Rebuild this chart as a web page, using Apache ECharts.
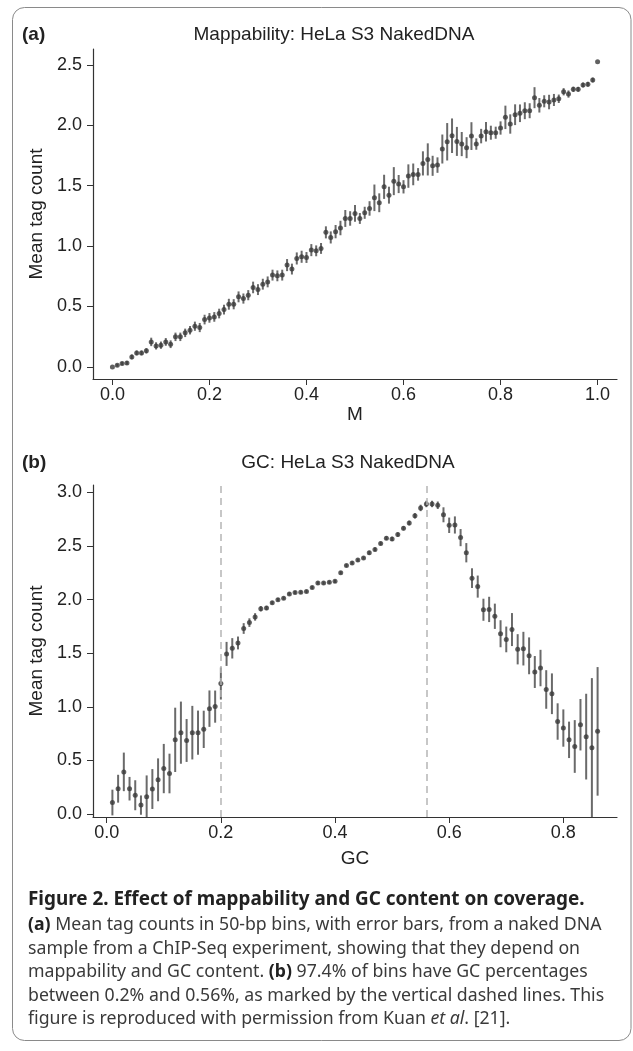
<!DOCTYPE html>
<html><head><meta charset="utf-8">
<script src="https://cdn.jsdelivr.net/npm/echarts@6/dist/echarts.min.js"></script>
<style>html,body{margin:0;padding:0;background:#fff}#c{width:633px;height:1051px}</style>
</head><body><div id="c"></div>
<script>
// Panel (a): mappability bins
const mapM = [0.00,0.01,0.02,0.03,0.04,0.05,0.06,0.07,0.08,0.09,0.10,0.11,0.12,0.13,0.14,0.15,0.16,0.17,0.18,0.19,0.20,0.21,0.22,0.23,0.24,0.25,0.26,0.27,0.28,0.29,0.30,0.31,0.32,0.33,0.34,0.35,0.36,0.37,0.38,0.39,0.40,0.41,0.42,0.43,0.44,0.45,0.46,0.47,0.48,0.49,0.50,0.51,0.52,0.53,0.54,0.55,0.56,0.57,0.58,0.59,0.60,0.61,0.62,0.63,0.64,0.65,0.66,0.67,0.68,0.69,0.70,0.71,0.72,0.73,0.74,0.75,0.76,0.77,0.78,0.79,0.80,0.81,0.82,0.83,0.84,0.85,0.86,0.87,0.88,0.89,0.90,0.91,0.92,0.93,0.94,0.95,0.96,0.97,0.98,0.99,1.00];
const mapMean = [0.00,0.014,0.028,0.033,0.083,0.116,0.116,0.133,0.207,0.174,0.18,0.207,0.188,0.249,0.249,0.282,0.304,0.337,0.326,0.392,0.406,0.414,0.442,0.475,0.519,0.519,0.58,0.566,0.594,0.658,0.64,0.685,0.704,0.76,0.754,0.76,0.843,0.81,0.898,0.912,0.906,0.967,0.961,0.981,1.114,1.072,1.12,1.15,1.229,1.229,1.271,1.229,1.276,1.312,1.40,1.359,1.491,1.422,1.538,1.514,1.491,1.58,1.594,1.594,1.685,1.718,1.665,1.671,1.804,1.864,1.914,1.867,1.845,1.815,1.911,1.845,1.911,1.947,1.939,1.939,1.978,2.066,2.011,2.088,2.10,2.121,2.121,2.229,2.166,2.199,2.193,2.21,2.22,2.278,2.259,2.298,2.298,2.334,2.34,2.375,2.527];
const mapErr = [0,0.012,0.014,0.015,0.02,0.02,0.02,0.022,0.035,0.03,0.03,0.032,0.032,0.035,0.035,0.035,0.035,0.038,0.038,0.04,0.04,0.04,0.04,0.04,0.045,0.042,0.045,0.042,0.042,0.048,0.045,0.045,0.045,0.045,0.045,0.045,0.05,0.045,0.05,0.05,0.045,0.05,0.045,0.045,0.05,0.05,0.055,0.06,0.07,0.06,0.07,0.045,0.05,0.06,0.11,0.078,0.10,0.07,0.116,0.075,0.055,0.097,0.09,0.052,0.10,0.133,0.083,0.064,0.12,0.155,0.143,0.12,0.10,0.087,0.115,0.047,0.06,0.08,0.058,0.05,0.055,0.097,0.08,0.086,0.073,0.07,0.062,0.087,0.06,0.05,0.06,0.05,0.035,0.03,0.03,0.022,0.02,0.02,0.02,0.02,0];
// Panel (b): GC content bins
const gcX = [0.01,0.02,0.03,0.04,0.05,0.06,0.07,0.08,0.09,0.10,0.11,0.12,0.13,0.14,0.15,0.16,0.17,0.18,0.19,0.20,0.21,0.22,0.23,0.24,0.25,0.26,0.27,0.28,0.29,0.30,0.31,0.32,0.33,0.34,0.35,0.36,0.37,0.38,0.39,0.40,0.41,0.42,0.43,0.44,0.45,0.46,0.47,0.48,0.49,0.50,0.51,0.52,0.53,0.54,0.55,0.56,0.57,0.58,0.59,0.60,0.61,0.62,0.63,0.64,0.65,0.66,0.67,0.68,0.69,0.70,0.71,0.72,0.73,0.74,0.75,0.76,0.77,0.78,0.79,0.80,0.81,0.82,0.83,0.84,0.85,0.86];
const gcMean = [0.107,0.236,0.393,0.236,0.175,0.083,0.16,0.233,0.319,0.424,0.378,0.692,0.759,0.686,0.759,0.759,0.79,0.983,1.002,1.218,1.494,1.546,1.596,1.731,1.786,1.839,1.915,1.922,1.971,2.0,2.014,2.054,2.066,2.069,2.076,2.113,2.155,2.155,2.162,2.171,2.251,2.318,2.343,2.369,2.389,2.438,2.469,2.524,2.574,2.567,2.607,2.666,2.715,2.782,2.856,2.893,2.893,2.881,2.792,2.694,2.697,2.579,2.438,2.201,2.122,1.906,1.909,1.845,1.682,1.629,1.721,1.537,1.543,1.476,1.325,1.362,1.162,1.122,0.863,0.802,0.692,0.63,0.833,0.722,0.618,0.771];
const gcErr = [0.12,0.13,0.18,0.11,0.14,0.09,0.2,0.186,0.2,0.23,0.185,0.3,0.29,0.2,0.25,0.206,0.174,0.17,0.15,0.15,0.112,0.095,0.06,0.05,0.04,0.035,0.025,0.02,0.015,0.015,0.015,0.015,0.015,0.015,0.015,0.015,0.015,0.015,0.015,0.015,0.015,0.015,0.015,0.015,0.015,0.018,0.018,0.018,0.018,0.02,0.02,0.02,0.022,0.025,0.03,0.03,0.03,0.035,0.07,0.072,0.08,0.08,0.09,0.092,0.103,0.103,0.118,0.118,0.126,0.12,0.154,0.141,0.157,0.172,0.149,0.17,0.18,0.19,0.17,0.174,0.17,0.246,0.24,0.4,0.65,0.6];
const gcDashed = [0.2, 0.56];
const mapTicksX = [0, 0.2, 0.4, 0.6, 0.8, 1.0];
const mapTicksY = [0, 0.5, 1.0, 1.5, 2.0, 2.5];
const gcTicksX = [0, 0.2, 0.4, 0.6, 0.8];
const gcTicksY = [0, 0.5, 1.0, 1.5, 2.0, 2.5, 3.0];
const titles = ['Mappability: HeLa S3 NakedDNA', 'GC: HeLa S3 NakedDNA'];
const axisNames = ['M', 'GC', 'Mean tag count'];
const captionTitle = 'Figure 2. Effect of mappability and GC content on coverage.';
const captionLines = [
  '{b|(a)} Mean tag counts in 50-bp bins, with error bars, from a naked DNA',
  'sample from a ChIP-Seq experiment, showing that they depend on',
  'mappability and GC content. {b|(b)} 97.4% of bins have GC percentages',
  'between 0.2% and 0.56%, as marked by the vertical dashed lines. This',
  'figure is reproduced with permission from Kuan {i|et al}. [21].'
];

const FONT = 'Liberation Sans, Arial, sans-serif';
const CAPFONT = 'Noto Sans, Open Sans, sans-serif';
const ink = '#222';
const CAPSIZE = 17.7;

function bars(xs, ms, es) { return xs.map((x, i) => [x, ms[i] - es[i], ms[i] + es[i]]); }
function pts(xs, ms) { return xs.map((x, i) => [x, ms[i]]); }
function errRender(params, api) {
  const x = api.value(0);
  const a = api.coord([x, api.value(1)]);
  const b = api.coord([x, api.value(2)]);
  return { type: 'line', shape: { x1: a[0], y1: a[1], x2: b[0], y2: b[1] },
           style: { stroke: '#6a6a6a', lineWidth: 2 } };
}
function xAx(gridIndex, min, max, ticks, name, gap) {
  return {
    type: 'value', gridIndex, min, max, name, nameLocation: 'middle', nameGap: gap,
    nameTextStyle: { fontFamily: FONT, fontSize: 19, color: ink },
    axisLine: { show: true, onZero: false, lineStyle: { color: '#333', width: 1.2 } },
    axisTick: { show: true, length: 6, customValues: ticks, lineStyle: { color: '#333' } },
    axisLabel: { customValues: ticks, margin: 7, fontFamily: FONT, fontSize: 18, color: ink,
                 formatter: v => Number(v).toFixed(1) },
    splitLine: { show: false }
  };
}
function yAx(gridIndex, min, max, ticks) {
  return {
    type: 'value', gridIndex, min, max, name: axisNames[2], nameLocation: 'middle', nameGap: 45,
    nameTextStyle: { fontFamily: FONT, fontSize: 19, color: ink },
    axisLine: { show: true, onZero: false, lineStyle: { color: '#333', width: 1.2 } },
    axisTick: { show: true, length: 6, customValues: ticks, lineStyle: { color: '#333' } },
    axisLabel: { customValues: ticks, margin: 11, fontFamily: FONT, fontSize: 18, color: ink,
                 formatter: v => Number(v).toFixed(1) },
    splitLine: { show: false }
  };
}

const chart = echarts.init(document.getElementById('c'), null, { renderer: 'canvas' });
const graphics = [
  { type: 'rect', shape: { x: 12.5, y: 7.5, width: 618.5, height: 1033, r: 12 },
    style: { fill: 'none', stroke: '#8a8a8a', lineWidth: 1 }, z: 0 },
  { type: 'text', x: 22, y: 35, style: { text: '(a)', font: 'bold 19px ' + FONT, fill: ink, textVerticalAlign: 'middle' } },
  { type: 'text', x: 334, y: 35, style: { text: titles[0], font: '19px ' + FONT, fill: ink, textAlign: 'center', textVerticalAlign: 'middle' } },
  { type: 'text', x: 22, y: 463, style: { text: '(b)', font: 'bold 19px ' + FONT, fill: ink, textVerticalAlign: 'middle' } },
  { type: 'text', x: 348, y: 463, style: { text: titles[1], font: '19px ' + FONT, fill: ink, textAlign: 'center', textVerticalAlign: 'middle' } },
  { type: 'text', x: 28, y: 900, style: { text: captionTitle, font: 'bold 18.9px ' + CAPFONT, fill: '#222', textVerticalAlign: 'middle' } }
];
captionLines.forEach((t, i) => {
  graphics.push({ type: 'text', x: 28, y: 925 + i * 23.6, style: {
    text: t, font: CAPSIZE + 'px ' + CAPFONT, fill: '#3a3a3a', textVerticalAlign: 'middle',
    rich: { b: { fontWeight: 'bold', fontSize: CAPSIZE, fontFamily: CAPFONT, fill: '#222' },
            i: { fontStyle: 'italic', fontSize: CAPSIZE, fontFamily: CAPFONT, fill: '#3a3a3a' } } } });
});

chart.setOption({
  animation: false,
  backgroundColor: '#fff',
  grid: [
    { left: 93, right: 16, top: 49, bottom: 1051 - 379 },
    { left: 93, right: 16, top: 485, bottom: 1051 - 817 }
  ],
  xAxis: [ xAx(0, -0.04, 1.04, mapTicksX, axisNames[0], 24), xAx(1, -0.024, 0.894, gcTicksX, axisNames[1], 32) ],
  yAxis: [ yAx(0, -0.1, 2.632, mapTicksY), yAx(1, -0.028, 3.07, gcTicksY) ],
  graphic: graphics,
  series: [
    { type: 'custom', xAxisIndex: 0, yAxisIndex: 0, renderItem: errRender, data: bars(mapM, mapMean, mapErr), clip: true, z: 2 },
    { type: 'scatter', xAxisIndex: 0, yAxisIndex: 0, data: pts(mapM, mapMean), symbolSize: 5,
      itemStyle: { color: '#3a3a3a' }, z: 3 },
    { type: 'custom', xAxisIndex: 1, yAxisIndex: 1, renderItem: errRender, data: bars(gcX, gcMean, gcErr), clip: true, z: 2 },
    { type: 'scatter', xAxisIndex: 1, yAxisIndex: 1, data: pts(gcX, gcMean), symbolSize: 5,
      itemStyle: { color: '#3a3a3a' }, z: 3,
      markLine: { silent: true, symbol: 'none', label: { show: false },
        lineStyle: { color: '#b5b5b5', type: [7, 5], width: 1.5 },
        data: gcDashed.map(v => ({ xAxis: v })) } }
  ]
});
</script></body></html>
